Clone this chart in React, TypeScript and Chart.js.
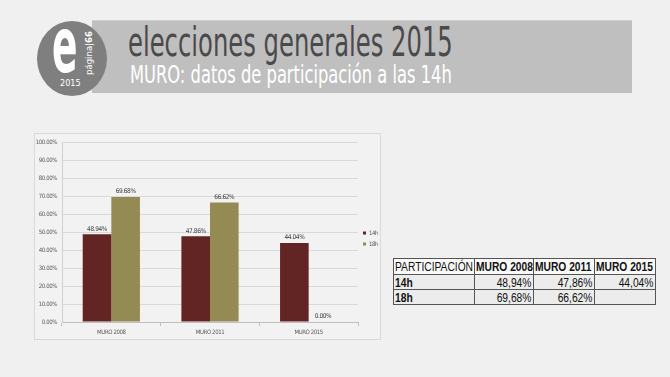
import React, { useEffect, useRef } from "react";
import { Chart, registerables } from "chart.js";

Chart.register(...registerables);

// ---- data ----
const categories = ["MURO 2008", "MURO 2011", "MURO 2015"];
const seriesNames = ["14h", "18h"];
const values14h = [48.94, 47.86, 44.04];
const values18h: (number | null)[] = [69.68, 66.62, null];
const tableCorner = "PARTICIPACIÓN";
const titleText = "elecciones generales 2015";
const subtitleText = "MURO: datos de participación a las 14h";

const COLORS = ["#632523", "#948a54"];
const COND = "'DejaVu Sans Condensed', sans-serif";
const ARIAL = "'Liberation Sans', Arial, sans-serif";

const fmtChart = (v: number) => v.toFixed(2) + "%";
const fmtTable = (v: number | null) => (v == null ? "" : v.toFixed(2).replace(".", ",") + "%");

const tightText = {
  id: "tightText",
  beforeLayout(chart: any) {
    chart.ctx.letterSpacing = "-0.4px";
  },
  beforeDraw(chart: any) {
    chart.ctx.letterSpacing = "-0.4px";
  },
  afterDraw(chart: any) {
    chart.ctx.letterSpacing = "0px";
  },
};

const valueLabels = {
  id: "valueLabels",
  afterDatasetsDraw(chart: any) {
    const ctx = chart.ctx;
    ctx.save();
    ctx.font = "6.5px " + COND;
    ctx.fillStyle = "#404040";
    ctx.textAlign = "center";
    ctx.textBaseline = "bottom";
    chart.data.datasets.forEach((ds: any, i: number) => {
      const meta = chart.getDatasetMeta(i);
      meta.data.forEach((bar: any, j: number) => {
        const v = ds.data[j] ?? 0;
        ctx.fillText(fmtChart(v), bar.x, bar.y - 2);
      });
    });
    ctx.restore();
  },
};

function FitText({ text, width, style }: { text: string; width: number; style: React.CSSProperties }) {
  const ref = useRef<HTMLSpanElement>(null);
  useEffect(() => {
    const el = ref.current;
    if (!el) return;
    el.style.transform = "none";
    const w = el.offsetWidth;
    if (w > 0) el.style.transform = `scaleX(${width / w})`;
  }, [text, width]);
  return (
    <span
      ref={ref}
      style={{ position: "absolute", whiteSpace: "nowrap", transformOrigin: "0 0", display: "inline-block", ...style }}
    >
      {text}
    </span>
  );
}

function BarChart() {
  const canvasRef = useRef<HTMLCanvasElement>(null);
  useEffect(() => {
    if (!canvasRef.current) return;
    const tickFont = { family: COND, size: 6 };
    const chart = new Chart(canvasRef.current, {
      type: "bar",
      data: {
        labels: categories,
        datasets: [
          { label: seriesNames[0], data: values14h, backgroundColor: COLORS[0], categoryPercentage: 0.58, barPercentage: 1 },
          { label: seriesNames[1], data: values18h.map((v) => v ?? 0), backgroundColor: COLORS[1], categoryPercentage: 0.58, barPercentage: 1 },
        ],
      },
      options: {
        responsive: false,
        animation: false,
        devicePixelRatio: 1,
        layout: { padding: { top: 4, left: 0, right: 0, bottom: 0 } },
        plugins: {
          tooltip: { enabled: false },
          legend: {
            position: "right",
            maxWidth: 22,
            labels: { boxWidth: 3, boxHeight: 3, font: tickFont, color: "#595959", padding: 5 },
          },
        },
        scales: {
          x: {
            grid: { display: true, drawOnChartArea: false, drawTicks: true, tickLength: 4, offset: true, color: "#bfbfbf" },
            border: { color: "#bfbfbf" },
            ticks: { font: tickFont, color: "#595959", padding: 3, maxRotation: 0 },
            afterFit: (s: any) => { s.height = 17; },
          },
          y: {
            min: 0,
            max: 100,
            ticks: { stepSize: 10, font: tickFont, color: "#595959", padding: 5, callback: (v: any) => fmtChart(Number(v)) },
            grid: { color: "#d9d9d9", drawTicks: false },
            border: { color: "#d0d0d0" },
            afterFit: (s: any) => { s.width = 27; },
          },
        },
      },
      plugins: [tightText, valueLabels],
    });
    return () => chart.destroy();
  }, []);
  return <canvas ref={canvasRef} width={345} height={205} style={{ display: "block" }} />;
}

const cellBase: React.CSSProperties = {
  border: "1px solid #555",
  padding: 0,
  position: "relative",
  overflow: "visible",
};

function CellText({ text, align, bold }: { text: string; align: "left" | "right"; bold?: boolean }) {
  const s: React.CSSProperties = {
    position: "absolute",
    top: 1,
    whiteSpace: "nowrap",
    fontFamily: ARIAL,
    fontSize: 12.5,
    lineHeight: "14px",
    fontWeight: bold ? "bold" : "normal",
    color: "#111",
    transform: "scaleX(0.82)",
    transformOrigin: align === "left" ? "0 0" : "100% 0",
  };
  if (align === "left") s.left = 1;
  else s.right = 2;
  return <span style={s}>{text}</span>;
}

function DataTable() {
  const rows = [
    { name: seriesNames[0], vals: values14h },
    { name: seriesNames[1], vals: values18h },
  ];
  const colW = [81, 59, 61, 61];
  return (
    <table
      style={{
        position: "absolute",
        left: 393,
        top: 258,
        borderCollapse: "collapse",
        border: "1.5px solid #222",
        tableLayout: "fixed",
        width: 262,
      }}
    >
      <colgroup>
        {colW.map((w, i) => (
          <col key={i} style={{ width: w }} />
        ))}
      </colgroup>
      <tbody>
        <tr style={{ height: 16, background: "#fafafa" }}>
          <td style={cellBase}><CellText text={tableCorner} align="left" /></td>
          {categories.map((c) => (
            <td key={c} style={cellBase}><CellText text={c} align="left" bold /></td>
          ))}
        </tr>
        {rows.map((r) => (
          <tr key={r.name} style={{ height: 15, background: "#ececec" }}>
            <td style={cellBase}><CellText text={r.name} align="left" bold /></td>
            {r.vals.map((v, i) => (
              <td key={i} style={cellBase}><CellText text={fmtTable(v)} align="right" /></td>
            ))}
          </tr>
        ))}
      </tbody>
    </table>
  );
}

function Logo() {
  return (
    <div style={{ position: "absolute", left: 37, top: 21, width: 70, height: 75, borderRadius: "50%", background: "#7f7f7f", overflow: "hidden" }}>
      <span style={{ position: "absolute", left: 15, top: -20, fontFamily: COND, fontWeight: "bold", fontSize: 76, color: "#fff", lineHeight: "normal", transform: "scaleX(0.55)", transformOrigin: "0 0" }}>e</span>
      <span style={{ position: "absolute", left: 23, top: 57, fontFamily: COND, fontSize: 9, color: "#fff" }}>2015</span>
      <span style={{ position: "absolute", left: 46, top: 54, fontFamily: COND, fontSize: 9.5, color: "#fff", transform: "rotate(-90deg)", transformOrigin: "0 0", whiteSpace: "nowrap" }}>
        página|<b>66</b>
      </span>
    </div>
  );
}

export default function App() {
  return (
    <div style={{ position: "fixed", left: 0, top: 0, width: 670, height: 377, background: "#f0f0f0", overflow: "hidden", fontFamily: "sans-serif" }}>
      <div style={{ position: "absolute", left: 92, top: 20, width: 540, height: 72, background: "#c0bfbf", borderTop: "1px solid #d0d0d0" }} />
      <Logo />
      <FitText text={titleText} width={325} style={{ left: 128, top: 18, fontFamily: COND, fontSize: 40, color: "#4a4a4a", lineHeight: "48px" }} />
      <FitText text={subtitleText} width={322} style={{ left: 130, top: 60, fontFamily: COND, fontSize: 25, color: "#ffffff", lineHeight: "30px" }} />
      <div style={{ position: "absolute", left: 34, top: 133, width: 347, height: 207, border: "1px solid #d9d9d9", boxSizing: "border-box", background: "#f2f2f2" }}>
        <BarChart />
      </div>
      <DataTable />
    </div>
  );
}
